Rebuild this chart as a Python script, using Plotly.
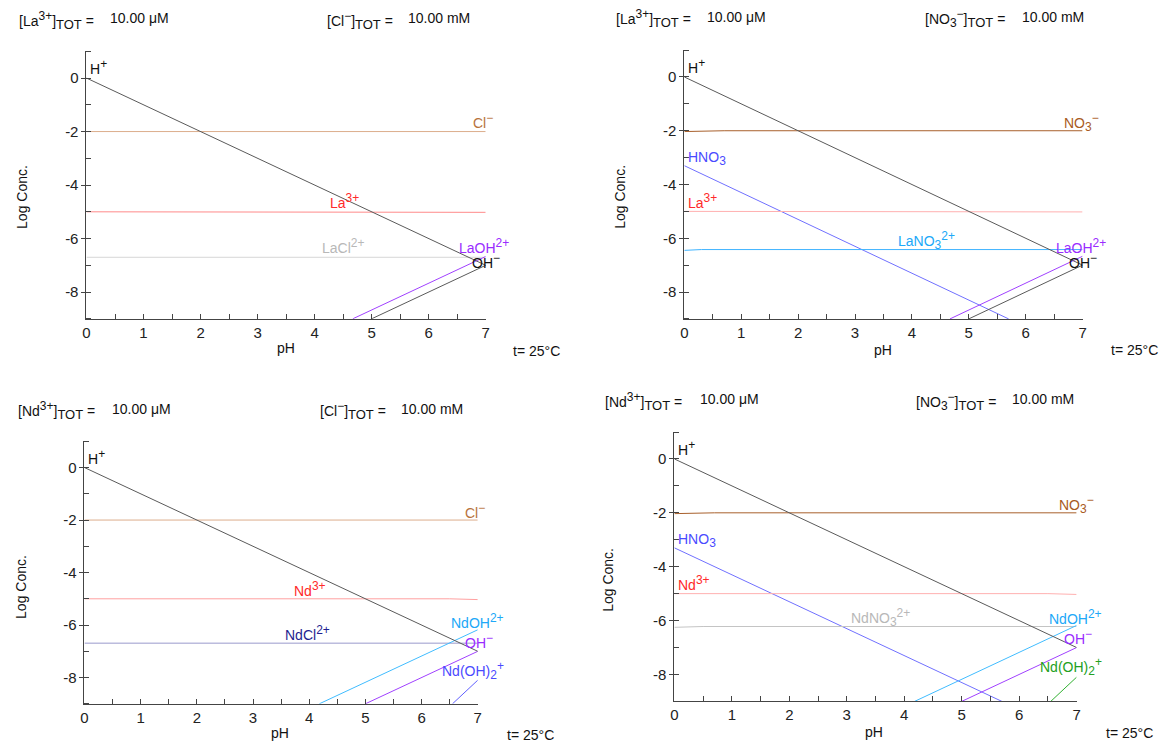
import plotly.graph_objects as go

# ---------------- data ----------------
ph_h = [0, 7]
log_h = [0, -7]
ph_oh = [5, 7]
log_oh = [-9, -7]

ph_flat = [0, 7]
log_cl = [-2, -2]

ph_m3 = [0, 6.5, 7]
log_la3 = [-5, -5, -5.02]
log_nd3 = [-5, -5, -5.03]

log_lacl = [-6.70, -6.70]
log_ndcl = [-6.69, -6.69]

ph_laoh = [4.67, 7]
log_laoh = [-9, -6.67]

ph_no3 = [0, 0.7, 7]
log_no3 = [-2.03, -2.0, -2.0]

ph_hno3 = [0, 5.7]
log_hno3 = [-3.3, -9]

ph_lano3 = [0, 0.3, 7]
log_lano3 = [-6.45, -6.42, -6.42]

ph_ndno3 = [0, 0.5, 7]
log_ndno3 = [-6.25, -6.22, -6.22]

ph_ndoh = [4.18, 7]
log_ndoh = [-9, -6.18]

ph_ndoh2 = [6.55, 7]
log_ndoh2 = [-9, -8.1]

x_tickvals = [0, 1, 2, 3, 4, 5, 6, 7]
x_ticktext = ["0", "1", "2", "3", "4", "5", "6", "7"]
y_tickvals = [0, -2, -4, -6, -8]
y_ticktext = ["0", "-2", "-4", "-6", "-8"]

# ---------------- styling ----------------
FONT = "Liberation Sans, Arial, sans-serif"
PAGE_OFF = 8          # browser body margin
W, H = 1160, 734      # figure size
BLACKLINE = "#5a5a5a"

fig = go.Figure()


def add_line(xs, ys, color, ax):
    fig.add_trace(go.Scatter(x=xs, y=ys, mode="lines",
                             line=dict(color=color, width=1),
                             xaxis="x" + ax, yaxis="y" + ax,
                             hoverinfo="skip", showlegend=False))


# Panel 1: La / Cl
add_line(ph_flat, log_cl, "#dcae8c", "")
add_line(ph_m3, log_la3, "#ff8a8a", "")
add_line(ph_flat, log_lacl, "#d6d6d6", "")
add_line(ph_laoh, log_laoh, "#a040ff", "")
add_line(ph_oh, log_oh, BLACKLINE, "")
add_line(ph_h, log_h, BLACKLINE, "")

# Panel 2: La / NO3
add_line(ph_no3, log_no3, "#a8602c", "2")
add_line(ph_hno3, log_hno3, "#7070ff", "2")
add_line(ph_m3, log_la3, "#ffb0b0", "2")
add_line(ph_lano3, log_lano3, "#40b4ff", "2")
add_line(ph_laoh, log_laoh, "#a040ff", "2")
add_line(ph_oh, log_oh, BLACKLINE, "2")
add_line(ph_h, log_h, BLACKLINE, "2")

# Panel 3: Nd / Cl
add_line(ph_flat, log_cl, "#dcae8c", "3")
add_line(ph_m3, log_nd3, "#ffa0a0", "3")
add_line(ph_flat, log_ndcl, "#9a9acc", "3")
add_line(ph_ndoh, log_ndoh, "#40bcff", "3")
add_line(ph_oh, log_oh, "#a040ff", "3")
add_line(ph_ndoh2, log_ndoh2, "#6060ff", "3")
add_line(ph_h, log_h, BLACKLINE, "3")

# Panel 4: Nd / NO3
add_line(ph_no3, log_no3, "#a8602c", "4")
add_line(ph_hno3, log_hno3, "#7070ff", "4")
add_line(ph_m3, log_nd3, "#ffb0b0", "4")
add_line(ph_ndno3, log_ndno3, "#c4c4c4", "4")
add_line(ph_ndoh, log_ndoh, "#40bcff", "4")
add_line(ph_oh, log_oh, "#a040ff", "4")
add_line(ph_ndoh2, log_ndoh2, "#30b030", "4")
add_line(ph_h, log_h, BLACKLINE, "4")


def fx(px):
    return (px - PAGE_OFF) / W


def fy(py):
    return 1 - (py - PAGE_OFF) / H


panels = {
    "": ([fx(83), fx(485)], [fy(318.8), fy(51.3)]),
    "2": ([fx(685), fx(1086)], [fy(318.9), fy(50.1)]),
    "3": ([fx(81), fx(477)], [fy(703.8), fy(441.3)]),
    "4": ([fx(675), fx(1080)], [fy(701.4), fy(432.0)]),
}

axis_line = "#444444"
tickfont = dict(family=FONT, size=15, color="#222222")

layout_axes = {}
for key, (dx, dy) in panels.items():
    layout_axes["xaxis" + key] = dict(
        domain=dx, range=[0, 7], anchor="y" + key,
        showgrid=False, zeroline=False, showline=True, linecolor=axis_line, linewidth=1,
        tickvals=x_tickvals, ticktext=x_ticktext,
        ticks="inside", ticklen=5, tickcolor=axis_line,
        minor=dict(dtick=0.5, ticks="inside", ticklen=5, tickcolor=axis_line, showgrid=False),
        tickfont=tickfont, fixedrange=True,
    )
    layout_axes["yaxis" + key] = dict(
        domain=dy, range=[-9, 1], anchor="x" + key,
        showgrid=False, zeroline=False, showline=True, linecolor=axis_line, linewidth=1,
        tickvals=y_tickvals, ticktext=y_ticktext,
        ticks="outside", ticklen=4, tickcolor=axis_line,
        minor=dict(dtick=1, tick0=1, ticks="inside", ticklen=5, tickcolor=axis_line, showgrid=False),
        tickfont=tickfont, fixedrange=True,
    )

annotations = []


def sup(s, size=12):
    return f'<sup><span style="font-size:{size}px">{s}</span></sup>'


def sub(s, size=12):
    return f'<sub><span style="font-size:{size}px">{s}</span></sub>'


def lab(text, x, y, color, ax, xanchor="center", size=14):
    annotations.append(dict(text=text, x=x, y=y, xref="x" + ax, yref="y" + ax,
                            xanchor=xanchor, yanchor="middle", showarrow=False,
                            font=dict(family=FONT, size=size, color=color)))


def ptext(text, px, py, xanchor="left", size=14, color="#111111", angle=0):
    annotations.append(dict(text=text, x=fx(px), y=fy(py), xref="paper", yref="paper",
                            xanchor=xanchor, yanchor="middle", showarrow=False, textangle=angle,
                            font=dict(family=FONT, size=size, color=color)))


CL_LAB = "#b8723c"
NO3_LAB = "#a85a22"
RED_LAB = "#ff2a2a"
PURPLE = "#9a2cff"
BLUE_LAB = "#4a4aff"
LBLUE_LAB = "#20a8f8"

# Panel 1 labels
lab("H" + sup("+"), 0.03, 0.42, "#111111", "", "left")
lab("Cl" + sup("−"), 6.74, -1.6, CL_LAB, "", "left")
lab("La" + sup("3+"), 4.53, -4.58, RED_LAB, "")
lab("LaCl" + sup("2+"), 4.5, -6.28, "#b8b8b8", "")
lab("LaOH" + sup("2+"), 6.5, -6.27, PURPLE, "", "left")
lab("OH" + sup("−"), 6.72, -6.85, "#111111", "", "left")

# Panel 2 labels
lab("H" + sup("+"), 0.03, 0.42, "#111111", "2", "left")
lab("NO" + sub("3") + sup("−"), 6.64, -1.68, NO3_LAB, "2", "left")
lab("HNO" + sub("3"), 0.03, -3.02, BLUE_LAB, "2", "left")
lab("La" + sup("3+"), 0.03, -4.6, RED_LAB, "2", "left")
lab("LaNO" + sub("3") + sup("2+"), 4.25, -6.1, LBLUE_LAB, "2")
lab("LaOH" + sup("2+"), 6.5, -6.3, PURPLE, "2", "left")
lab("OH" + sup("−"), 6.72, -6.85, "#111111", "2", "left")

# Panel 3 labels
lab("H" + sup("+"), 0.03, 0.42, "#111111", "3", "left")
lab("Cl" + sup("−"), 6.74, -1.66, CL_LAB, "3", "left")
lab("Nd" + sup("3+"), 4.02, -4.63, RED_LAB, "3")
lab("NdCl" + sup("2+"), 3.97, -6.3, "#1e1e90", "3")
lab("NdOH" + sup("2+"), 6.48, -5.85, LBLUE_LAB, "3", "left")
lab("OH" + sup("−"), 6.74, -6.6, PURPLE, "3", "left")
lab("Nd(OH)" + sub("2") + sup("+"), 6.32, -7.75, BLUE_LAB, "3", "left")

# Panel 4 labels
lab("H" + sup("+"), 0.03, 0.42, "#111111", "4", "left")
lab("NO" + sub("3") + sup("−"), 6.66, -1.68, NO3_LAB, "4", "left")
lab("HNO" + sub("3"), 0.03, -3.02, BLUE_LAB, "4", "left")
lab("Nd" + sup("3+"), 0.03, -4.6, RED_LAB, "4", "left")
lab("NdNO" + sub("3") + sup("2+"), 3.58, -5.9, "#b8b8b8", "4")
lab("NdOH" + sup("2+"), 6.48, -5.85, LBLUE_LAB, "4", "left")
lab("OH" + sup("−"), 6.74, -6.6, PURPLE, "4", "left")
lab("Nd(OH)" + sub("2") + sup("+"), 6.33, -7.72, "#22a022", "4", "left")

# Headers (page pixel positions)
headers = [
    ("[La" + sup("3+") + "]" + sub("TOT", 13) + " =", 13, 20, "10.00 μM", 105),
    ("[Cl" + sup("−") + "]" + sub("TOT", 13) + " =", 323, 20, "10.00 mM", 405),
    ("[La" + sup("3+") + "]" + sub("TOT", 13) + " =", 614, 19, "10.00 μM", 706),
    ("[NO" + sub("3") + sup("−") + "]" + sub("TOT", 13) + " =", 925, 19, "10.00 mM", 1023),
    ("[Nd" + sup("3+") + "]" + sub("TOT", 13) + " =", 12, 411, "10.00 μM", 107),
    ("[Cl" + sup("−") + "]" + sub("TOT", 13) + " =", 316, 411, "10.00 mM", 398),
    ("[Nd" + sup("3+") + "]" + sub("TOT", 13) + " =", 603, 401, "10.00 μM", 699),
    ("[NO" + sub("3") + sup("−") + "]" + sub("TOT", 13) + " =", 916, 401, "10.00 mM", 1013),
]
for t1, x1, yy, t2, x2 in headers:
    ptext(t1, x1, yy, size=14)
    ptext(t2, x2, yy - 2, size=14)

# Axis titles and temperature
for px_, py_ in [(284, 348), (885, 350), (278, 733), (876, 732)]:
    ptext("pH", px_, py_, xanchor="center", size=14)
for px_, py_ in [(18, 197), (620, 197), (17, 587), (608, 580)]:
    ptext("Log Conc.", px_, py_, xanchor="center", size=14, angle=-90)
for px_, py_ in [(510, 351), (1113, 350), (504, 735), (1108, 733)]:
    ptext("t= 25°C", px_, py_, xanchor="left", size=14)

fig.update_layout(
    width=W, height=H,
    margin=dict(l=0, r=0, t=0, b=0),
    paper_bgcolor="white", plot_bgcolor="white",
    showlegend=False,
    annotations=annotations,
    font=dict(family=FONT, size=14, color="#111111"),
    **layout_axes,
)

fig.write_html("out.html")
